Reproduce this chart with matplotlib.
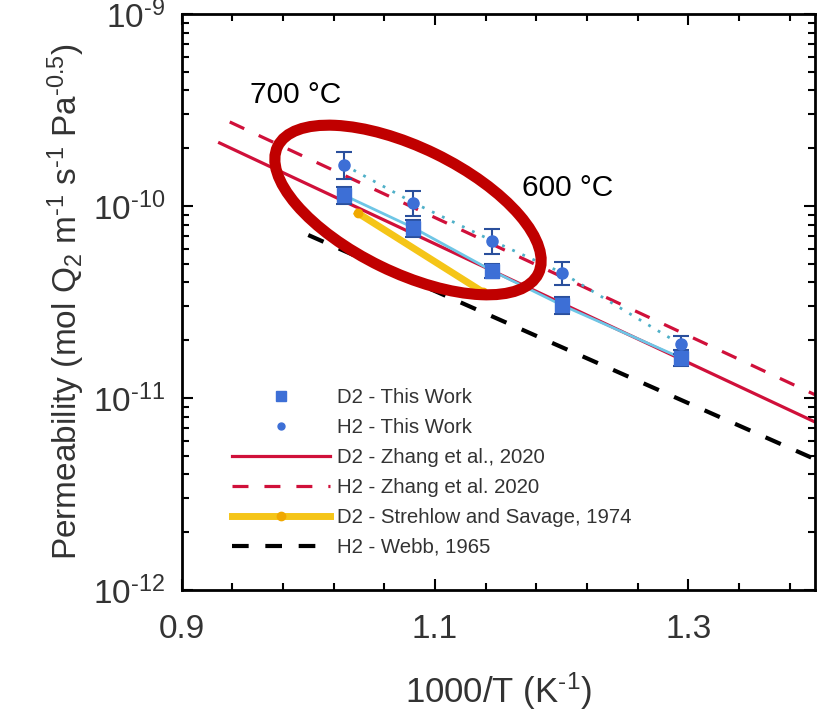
import matplotlib
matplotlib.use("Agg")
import matplotlib.pyplot as plt
from matplotlib.patches import Ellipse
from matplotlib.lines import Line2D
from matplotlib.transforms import IdentityTransform
from matplotlib.ticker import FixedLocator, FixedFormatter, LogLocator, NullFormatter

plt.rcParams['font.family'] = ['Liberation Sans', 'DejaVu Sans']
plt.rcParams['mathtext.fontset'] = 'custom'
plt.rcParams['mathtext.rm'] = 'Liberation Sans'
plt.rcParams['mathtext.it'] = 'Liberation Sans'

# this work (1000/T, permeability)
inv_t_work = [1.028, 1.083, 1.145, 1.200, 1.294]
d2_work = [1.14e-10, 7.7e-11, 4.6e-11, 3.05e-11, 1.62e-11]
d2_err = [1.2e-11, 8e-12, 4e-12, 3e-12, 1.5e-12]
h2_work = [1.64e-10, 1.04e-10, 6.6e-11, 4.5e-11, 1.9e-11]
h2_err = [2.6e-11, 1.5e-11, 1.0e-11, 6e-12, 2e-12]

# literature lines
zhang_d2_x = [0.930, 1.40]
zhang_d2_y = [2.13e-10, 7.5e-12]
zhang_h2_x = [0.938, 1.40]
zhang_h2_y = [2.74e-10, 1.04e-11]
strehlow_x = [1.039, 1.138]
strehlow_y = [9.2e-11, 3.56e-11]
webb_x = [1.00, 1.40]
webb_y = [7.06e-11, 4.8e-12]

x_ticks = [0.9, 1.1, 1.3]
x_ticklabels = ['0.9', '1.1', '1.3']
y_ticks = [1e-12, 1e-11, 1e-10, 1e-9]
y_ticklabels = ['$10^{‐12}$', '$10^{‐11}$', '$10^{‐10}$', '$10^{‐9}$']

blue = '#3d6fd6'
red = '#d0103a'
yellow = '#f5c518'

fig = plt.figure(figsize=(8.18, 7.16), dpi=100)
ax = fig.add_axes([181.6 / 818, (716 - 590) / 716, 633.4 / 818, 576 / 716])

ax.plot(inv_t_work, d2_work, color='#6ec6e6', lw=2, zorder=3)
ax.plot(inv_t_work, h2_work, color='#4fb0c8', lw=2, ls=(0, (1, 3)), zorder=3)

ax.plot(zhang_d2_x, zhang_d2_y, color=red, lw=2.3, zorder=2)
ax.plot(zhang_h2_x, zhang_h2_y, color=red, lw=2.3, ls=(0, (5, 5)), zorder=2)
ax.plot(strehlow_x, strehlow_y, color=yellow, lw=5, marker='o', ms=6,
        mfc='#f0a800', mec='#f0a800', zorder=2)
ax.plot(webb_x, webb_y, color='black', lw=3, ls=(0, (4, 4)), zorder=2)

ax.errorbar(inv_t_work, d2_work, yerr=d2_err, fmt='s', color=blue, ms=10,
            ecolor='#2a4f9c', elinewidth=1.5, capsize=6, capthick=1.5, zorder=4)
ax.errorbar(inv_t_work, h2_work, yerr=h2_err, fmt='o', color=blue, ms=8,
            ecolor='#2a4f9c', elinewidth=1.5, capsize=6, capthick=1.5, zorder=4)

ax.set_yscale('log')
ax.set_xlim(0.9, 1.4)
ax.set_ylim(1e-12, 1e-9)

ax.xaxis.set_major_locator(FixedLocator(x_ticks))
ax.xaxis.set_major_formatter(FixedFormatter(x_ticklabels))
ax.xaxis.set_minor_locator(FixedLocator([0.94, 0.98, 1.02, 1.06, 1.14, 1.18, 1.22, 1.26, 1.34, 1.38]))
ax.yaxis.set_major_locator(FixedLocator(y_ticks))
ax.yaxis.set_major_formatter(FixedFormatter(y_ticklabels))
ax.yaxis.set_minor_locator(LogLocator(base=10, subs=range(2, 10)))
ax.yaxis.set_minor_formatter(NullFormatter())

ax.tick_params(which='both', direction='in', top=True, right=True, width=1.5)
ax.tick_params(which='major', length=8, labelsize=24, labelcolor='#333333')
ax.tick_params(which='minor', length=5)
ax.tick_params(axis='x', pad=17)
ax.tick_params(axis='y', pad=12)
for s in ax.spines.values():
    s.set_linewidth(2)

ax.set_xlabel('1000/T (K$^{‐1}$)', fontsize=25, color='#333333', labelpad=19)
ax.set_ylabel('Permeability (mol Q$_2$ m$^{‐1}$ s$^{‐1}$ Pa$^{‐0.5}$)', fontsize=24,
              color='#333333', labelpad=4)

handles = [
    Line2D([], [], ls='none', marker='s', ms=7, color=blue),
    Line2D([], [], ls='none', marker='o', ms=5, color=blue),
    Line2D([], [], color=red, lw=2.3),
    Line2D([], [], color=red, lw=2.3, ls=(0, (5, 5))),
    Line2D([], [], color=yellow, lw=5, marker='o', ms=6, mfc='#f0a800', mec='#f0a800'),
    Line2D([], [], color='black', lw=3, ls=(0, (4, 4))),
]
labels = ['D2 - This Work', 'H2 - This Work', 'D2 - Zhang et al., 2020',
          'H2 - Zhang et al. 2020', 'D2 - Strehlow and Savage, 1974', 'H2 - Webb, 1965']
ax.legend(handles, labels, loc='upper left', bbox_to_anchor=(0.0796, 0.351), frameon=False,
          fontsize=14.7, labelcolor='#333333', handlelength=4.8, handletextpad=0.35,
          labelspacing=0.54, borderaxespad=0, borderpad=0)

# annotation ellipse and temperatures
ell = Ellipse((408, 716 - 210), 290, 125, angle=-26, fill=False,
              edgecolor='#c00000', lw=8, transform=IdentityTransform(), zorder=6)
fig.patches.append(ell)
fig.text(250 / 818, 1 - 95 / 716, '700 °C', fontsize=21.5, va='center', ha='left')
fig.text(522 / 818, 1 - 188 / 716, '600 °C', fontsize=21.5, va='center', ha='left')

fig.savefig('out.png', dpi=100)
